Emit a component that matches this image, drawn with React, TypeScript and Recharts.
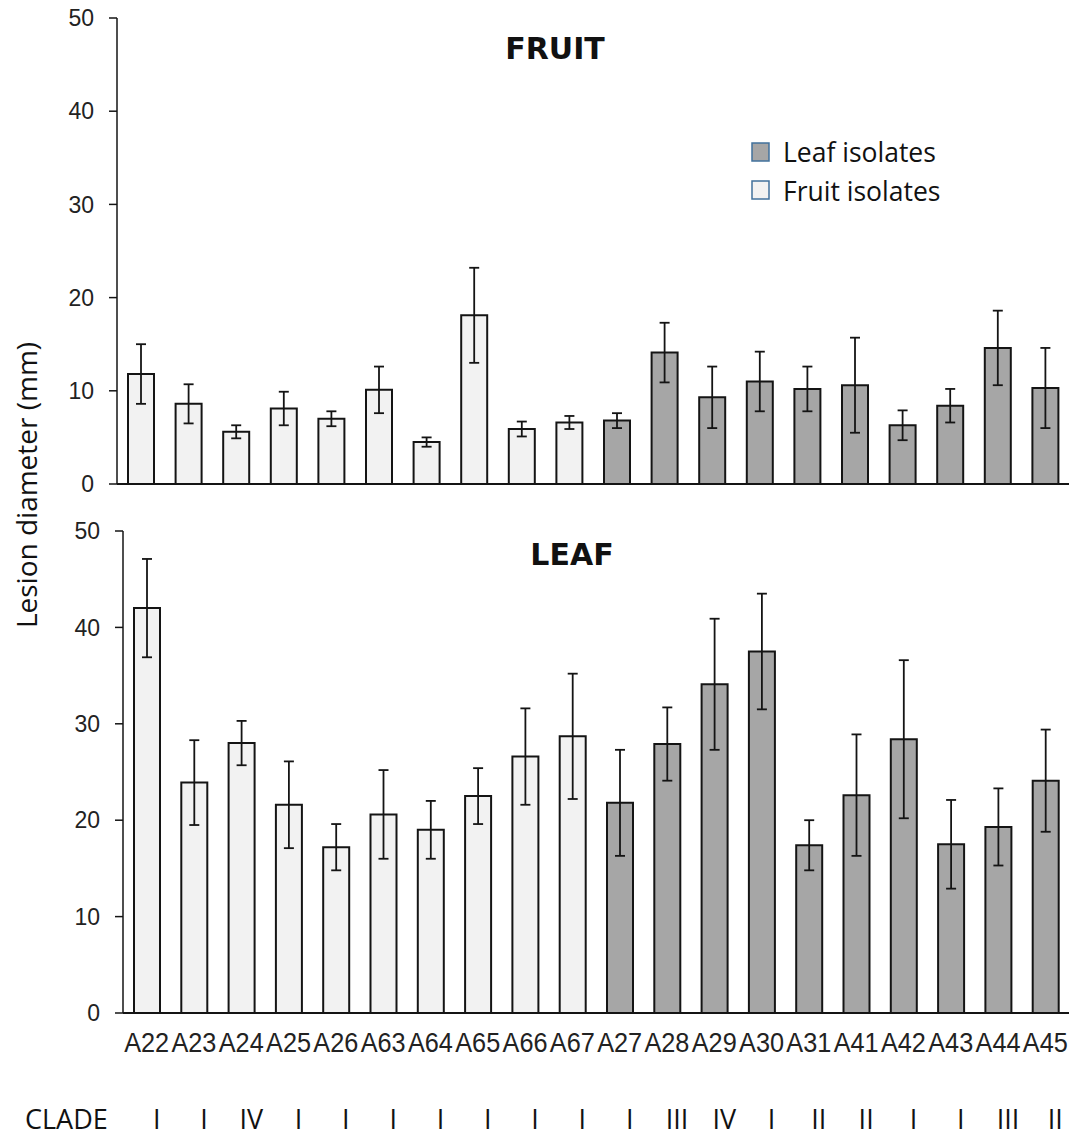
import React from 'react';
import { BarChart, Bar, XAxis, YAxis, ErrorBar, Cell } from 'recharts';

const isolates = ['A22', 'A23', 'A24', 'A25', 'A26', 'A63', 'A64', 'A65', 'A66', 'A67', 'A27', 'A28', 'A29', 'A30', 'A31', 'A41', 'A42', 'A43', 'A44', 'A45'];
const clades = ['I', 'I', 'IV', 'I', 'I', 'I', 'I', 'I', 'I', 'I', 'I', 'III', 'IV', 'I', 'II', 'II', 'I', 'I', 'III', 'II'];
const origins = ['Fruit isolates', 'Fruit isolates', 'Fruit isolates', 'Fruit isolates', 'Fruit isolates', 'Fruit isolates', 'Fruit isolates', 'Fruit isolates', 'Fruit isolates', 'Fruit isolates', 'Leaf isolates', 'Leaf isolates', 'Leaf isolates', 'Leaf isolates', 'Leaf isolates', 'Leaf isolates', 'Leaf isolates', 'Leaf isolates', 'Leaf isolates', 'Leaf isolates'];
const fruitLesionMean = [11.8, 8.6, 5.6, 8.1, 7.0, 10.1, 4.5, 18.1, 5.9, 6.6, 6.8, 14.1, 9.3, 11.0, 10.2, 10.6, 6.3, 8.4, 14.6, 10.3];
const fruitLesionErr = [3.2, 2.1, 0.7, 1.8, 0.8, 2.5, 0.5, 5.1, 0.8, 0.7, 0.8, 3.2, 3.3, 3.2, 2.4, 5.1, 1.6, 1.8, 4.0, 4.3];
const leafLesionMean = [42.0, 23.9, 28.0, 21.6, 17.2, 20.6, 19.0, 22.5, 26.6, 28.7, 21.8, 27.9, 34.1, 37.5, 17.4, 22.6, 28.4, 17.5, 19.3, 24.1];
const leafLesionErr = [5.1, 4.4, 2.3, 4.5, 2.4, 4.6, 3.0, 2.9, 5.0, 6.5, 5.5, 3.8, 6.8, 6.0, 2.6, 6.3, 8.2, 4.6, 4.0, 5.3];
const yTicks = [0, 10, 20, 30, 40, 50];
const legendItems = ['Leaf isolates', 'Fruit isolates'];
const originColors: Record<string, string> = { 'Leaf isolates': '#a6a6a6', 'Fruit isolates': '#f2f2f2' };

const fruitData = isolates.map((name, i) => ({ name, clade: clades[i], origin: origins[i], mean: fruitLesionMean[i], err: fruitLesionErr[i] }));
const leafData = isolates.map((name, i) => ({ name, clade: clades[i], origin: origins[i], mean: leafLesionMean[i], err: leafLesionErr[i] }));

const INK = '#141414';
const tickStyle = { fontFamily: "'Liberation Sans', Arial, sans-serif", fontSize: 23, fill: '#222' };

const XTick = (props: any) => {
  const { x, y, payload, index } = props;
  return (
    <g>
      <text x={x} y={y + 39} textAnchor="middle" fontFamily="'Liberation Sans', Arial, sans-serif" fontSize={27} fill="#222" textLength={45} lengthAdjust="spacingAndGlyphs">
        {payload.value}
      </text>
      <text x={x + 10} y={y + 116} textAnchor="middle" fontFamily="'Open Sans', sans-serif" fontSize={27} fill="#111">
        {clades[index]}
      </text>
    </g>
  );
};

const renderBars = () => (
  <Bar dataKey="mean" barSize={26} stroke={INK} strokeWidth={2} isAnimationActive={false}>
    {isolates.map((name, i) => (
      <Cell key={name} fill={originColors[origins[i]]} />
    ))}
    <ErrorBar dataKey="err" width={5} stroke={INK} strokeWidth={1.8} isAnimationActive={false} />
  </Bar>
);

export default function App() {
  return (
    <div style={{ position: 'absolute', left: 0, top: 0, width: 1076, height: 1137, background: '#fff' }}>
      <div style={{ position: 'absolute', left: 0, top: 0 }}>
        <BarChart width={1076} height={500} data={fruitData} margin={{ top: 18, right: 7, bottom: 15, left: 0 }} barCategoryGap={0}>
          <XAxis dataKey="name" tick={false} tickLine={false} height={1} axisLine={{ stroke: INK, strokeWidth: 1.8 }} />
          <YAxis domain={[0, 50]} ticks={yTicks} width={117} tickSize={8} tickMargin={15} tick={tickStyle} axisLine={{ stroke: INK, strokeWidth: 1.5 }} tickLine={{ stroke: INK, strokeWidth: 1.5 }} interval={0} />
          {renderBars()}
        </BarChart>
      </div>
      <div style={{ position: 'absolute', left: 0, top: 500 }}>
        <BarChart width={1076} height={637} data={leafData} margin={{ top: 31, right: 7, bottom: 14, left: 0 }} barCategoryGap={0}>
          <XAxis dataKey="name" tick={<XTick />} tickLine={false} tickSize={0} tickMargin={0} interval={0} height={110} axisLine={{ stroke: INK, strokeWidth: 1.8 }} />
          <YAxis domain={[0, 50]} ticks={yTicks} width={123} tickSize={8} tickMargin={15} tick={tickStyle} axisLine={{ stroke: INK, strokeWidth: 1.5 }} tickLine={{ stroke: INK, strokeWidth: 1.5 }} interval={0} />
          {renderBars()}
        </BarChart>
      </div>
      <svg width={1076} height={1137} style={{ position: 'absolute', left: 0, top: 0, pointerEvents: 'none' }}>
        <text transform="translate(37, 485) rotate(-90)" textAnchor="middle" fontFamily="'Open Sans', sans-serif" fontSize={28} fill="#111">Lesion diameter (mm)</text>
        <text x={555} y={59} textAnchor="middle" fontFamily="'DejaVu Sans', sans-serif" fontWeight="bold" fontSize={30} fill="#111">FRUIT</text>
        <text x={572} y={565} textAnchor="middle" fontFamily="'DejaVu Sans', sans-serif" fontWeight="bold" fontSize={30} fill="#111">LEAF</text>
        {legendItems.map((item, i) => (
          <g key={item}>
            <rect x={752} y={143 + i * 38} width={17} height={18} fill={originColors[item]} stroke="#41719c" strokeWidth={1.5} />
            <text x={783} y={162 + i * 39} fontFamily="'Open Sans', sans-serif" fontSize={26.5} fill="#111">{item}</text>
          </g>
        ))}
        <text x={25} y={1129} fontFamily="'Open Sans', sans-serif" fontSize={27} fill="#111">CLADE</text>
      </svg>
    </div>
  );
}
